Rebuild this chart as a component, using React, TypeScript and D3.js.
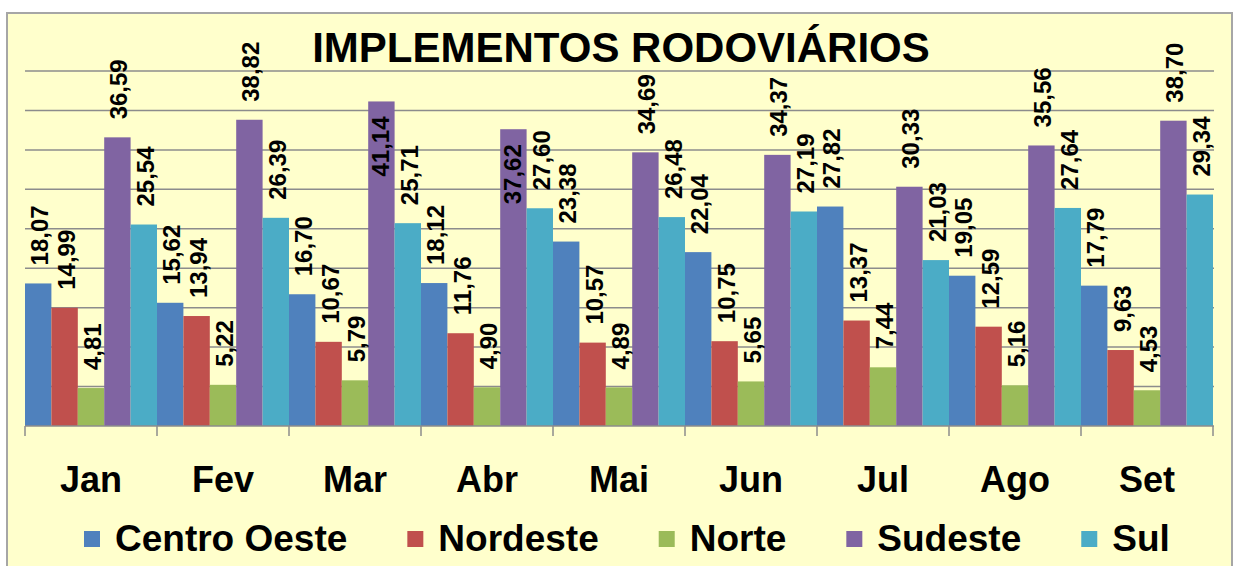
import React from "react";
import * as d3 from "d3";

const months = ["Jan", "Fev", "Mar", "Abr", "Mai", "Jun", "Jul", "Ago", "Set"];
const seriesNames = ["Centro Oeste", "Nordeste", "Norte", "Sudeste", "Sul"];
const centroOeste = [18.07, 15.62, 16.7, 18.12, 23.38, 22.04, 27.82, 19.05, 17.79];
const nordeste = [14.99, 13.94, 10.67, 11.76, 10.57, 10.75, 13.37, 12.59, 9.63];
const norte = [4.81, 5.22, 5.79, 4.9, 4.89, 5.65, 7.44, 5.16, 4.53];
const sudeste = [36.59, 38.82, 41.14, 37.62, 34.69, 34.37, 30.33, 35.56, 38.7];
const sul = [25.54, 26.39, 25.71, 27.6, 26.48, 27.19, 21.03, 27.64, 29.34];
const gridTicks = [5, 10, 15, 20, 25, 30, 35, 40, 45];
const title = "IMPLEMENTOS RODOVIÁRIOS";

const colors = ["#4F81BD", "#C0504D", "#9BBB59", "#8064A2", "#4BACC6"];
const FONT = "'Liberation Sans', Arial, sans-serif";

const W = 1238;
const H = 566;

function measure(text: string, size: number): number {
  if (typeof document === "undefined") return text.length * size * 0.6;
  const c = document.createElement("canvas").getContext("2d");
  if (!c) return text.length * size * 0.6;
  c.font = `bold ${size}px ${FONT}`;
  return c.measureText(text).width;
}

export default function App() {
  const values = [centroOeste, nordeste, norte, sudeste, sul];
  const x = d3.scaleBand<string>().domain(months).range([25, 1213]).paddingInner(0).paddingOuter(0);
  const xs = d3.scaleBand<string>().domain(seriesNames).range([0, x.bandwidth()]).padding(0);
  const y = d3.scaleLinear().domain([0, 45]).range([426, 71]);
  const fmt = (v: number) => v.toFixed(2).replace(".", ",");

  const titleSize = 42;
  const titleX = 621;
  const titleBaseline = 62;
  const titleW = measure(title, titleSize);
  const titleBox = { x0: titleX - titleW / 2, x1: titleX + titleW / 2, bottom: titleBaseline + 4 };

  const labelSize = 24;

  // legend layout
  const legendSize = 37;
  let lx = 84;
  const legendItems = seriesNames.map((n, i) => {
    const item = { name: n, x: lx, color: colors[i] };
    lx += 16 + 15 + measure(n, legendSize) + 60;
    return item;
  });

  const boundaries = months.map((m) => x(m) as number).concat([x.range()[1]]);

  return (
    <svg width={W} height={H} style={{ position: "absolute", left: 0, top: 0 }} fontFamily={FONT}>
      <rect x={0} y={0} width={W} height={H} fill="#ffffff" />
      <rect x={7} y={13} width={1225} height={600} fill="#FFFFCC" stroke="#A6A6A6" strokeWidth={2} />
      <text x={titleX} y={titleBaseline} textAnchor="middle" fontSize={titleSize} fontWeight="bold" fill="#000">
        {title}
      </text>
      {gridTicks.map((t) => (
        <line key={t} x1={25} x2={1214} y1={y(t)} y2={y(t)} stroke="#8C8C8C" strokeWidth={1.5} />
      ))}
      {months.map((m, mi) =>
        values.map((arr, si) => {
          const v = arr[mi];
          const bx = (x(m) as number) + (xs(seriesNames[si]) as number);
          return (
            <rect
              key={m + si}
              x={bx}
              y={y(v)}
              width={xs.bandwidth()}
              height={y(0) - y(v)}
              fill={colors[si]}
            />
          );
        })
      )}
      <line x1={25} x2={1214} y1={y(0)} y2={y(0)} stroke="#8C8C8C" strokeWidth={1.5} />
      {boundaries.map((b, i) => (
        <line key={i} x1={b} x2={b} y1={y(0)} y2={y(0) + 10} stroke="#8C8C8C" strokeWidth={1.5} />
      ))}
      {months.map((m, mi) =>
        values.map((arr, si) => {
          const v = arr[mi];
          const s = fmt(v);
          const cx = (x(m) as number) + (xs(seriesNames[si]) as number) + xs.bandwidth() / 2;
          const len = measure(s, labelSize);
          const outsideStart = y(v) - 18;
          const outsideTop = outsideStart - len;
          const hitsTitle = outsideTop < titleBox.bottom && cx > titleBox.x0 && cx < titleBox.x1;
          const tx = cx + 10;
          if (hitsTitle) {
            return (
              <text
                key={"l" + m + si}
                transform={`translate(${tx - 2},${y(v) + 15}) rotate(-90)`}
                textAnchor="end"
                fontSize={labelSize}
                fontWeight="bold"
                fill="#000"
              >
                {s}
              </text>
            );
          }
          return (
            <text
              key={"l" + m + si}
              transform={`translate(${tx},${outsideStart}) rotate(-90)`}
              fontSize={labelSize}
              fontWeight="bold"
              fill="#000"
            >
              {s}
            </text>
          );
        })
      )}
      {months.map((m) => (
        <text
          key={"m" + m}
          x={(x(m) as number) + x.bandwidth() / 2}
          y={492}
          textAnchor="middle"
          fontSize={36}
          fontWeight="bold"
          fill="#000"
        >
          {m}
        </text>
      ))}
      {legendItems.map((it) => (
        <g key={it.name}>
          <rect x={it.x} y={531} width={16} height={16} fill={it.color} />
          <text x={it.x + 31} y={551} fontSize={legendSize} fontWeight="bold" fill="#000">
            {it.name}
          </text>
        </g>
      ))}
    </svg>
  );
}
